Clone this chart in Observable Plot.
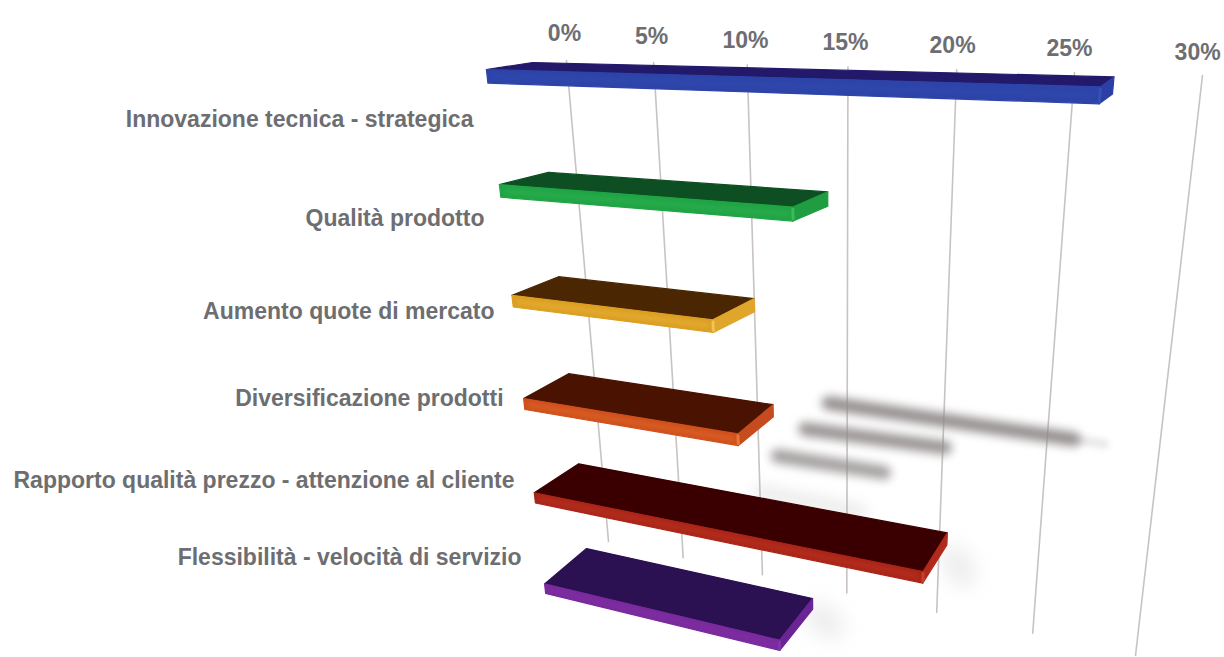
<!doctype html>
<html>
<head>
<meta charset="utf-8">
<style>html,body{margin:0;background:#fff}svg{display:block}</style>
<script src="https://cdn.jsdelivr.net/npm/d3@7"></script>
<script src="https://cdn.jsdelivr.net/npm/@observablehq/plot@0.6"></script>
</head>
<body>
<div id="chart"></div>
<script>
// Survey shares, in percent, for each answer.
const categories = [
  "Innovazione tecnica - strategica",
  "Qualità prodotto",
  "Aumento quote di mercato",
  "Diversificazione prodotti",
  "Rapporto qualità prezzo - attenzione al cliente",
  "Flessibilità - velocità di servizio"
];
const values = [26.6, 14, 10, 10.9, 20.4, 13];
const ticks = [0, 5, 10, 15, 20, 25, 30];

// Colours of each bar's faces.
const topColors = ["#22196a", "#0d4f22", "#4a2702", "#4a1301", "#3a0001", "#2b1052"];
const frontColors = ["#2d44a9", "#20a545", "#dc9f22", "#d0501d", "#aa2518", "#7a2a9d"];
const sideColors = ["#2b3fa6", "#1f9d40", "#e0a62c", "#c64b1e", "#b02a1b", "#6a2595"];
const glintColors = ["#3a55bb", "#45c466", "#f6d060", "#f08a3a", "#d04a30", "#8a3ab0"];

// Slab geometry on the tilted floor: x is in percent, y runs from the top edge (0) to the bottom edge (1).
const barBase = -5;
const barFrontRow = [0.020, 0.239, 0.466, 0.694, 0.917, 1.148];
const barBackRow = [0.005, 0.208, 0.415, 0.621, 0.825, 1.030];
const barBackStart = [-2.06, -1.74, -1.74, -1.69, -1.59, -1.61];
const barCornerInset = [0.5, 1.8, 2.4, 2.1, 1.2, 2.05];
const barLip = 0.025;

const labelEnd = [-6.22, -6.27, -6.35, -6.45, -6.37, -6.54];
const labelRow = [0.115, 0.310, 0.506, 0.702, 0.896, 1.092];
const tickLabelValue = [0.02, 4.97, 9.95, 14.88, 19.78, 24.72, 29.72];
const tickLabelRow = [-0.047, -0.044, -0.040, -0.039, -0.036, -0.035, -0.032];

// Soft cast shadows: [x1, y1, x2, y2, line width, opacity, blur].
const streaks = [
  [14.0, 0.601, 26.2, 0.601, 14, 0.95, 5],
  [26.4, 0.601, 27.6, 0.601, 9, 0.2, 3],
  [12.7, 0.661, 20.1, 0.654, 14, 0.9, 5],
  [11.1, 0.727, 17.0, 0.724, 14, 0.8, 5],
  [10.03, 0.813, 15.75, 0.816, 16, 0.16, 7],
  [20.8, 0.875, 21.3, 0.905, 26, 0.16, 10],
  [13.3, 1.066, 14.1, 1.085, 26, 0.16, 10]
];

// Perspective plane: the four corners of the 0–30 floor, mapped on screen.
const corners = [[566, 60], [1202, 75], [1135, 655], [608, 541]];
function floorProjection([p0, p1, p2, p3]) {
  const sx = p0[0] - p1[0] + p2[0] - p3[0], sy = p0[1] - p1[1] + p2[1] - p3[1];
  const dx1 = p1[0] - p2[0], dx2 = p3[0] - p2[0], dy1 = p1[1] - p2[1], dy2 = p3[1] - p2[1];
  const det = dx1 * dy2 - dx2 * dy1;
  const g = (sx * dy2 - dx2 * sy) / det, h = (dx1 * sy - sx * dy1) / det;
  const a = p1[0] - p0[0] + g * p1[0], b = p3[0] - p0[0] + h * p3[0];
  const d = p1[1] - p0[1] + g * p1[1], e = p3[1] - p0[1] + h * p3[1];
  return d3.geoTransform({
    point(v, t) {
      const u = v / 30, w = g * u + h * t + 1;
      this.stream.point((a * u + b * t + p0[0]) / w, (d * u + e * t + p0[1]) / w);
    }
  });
}

const line = (...coordinates) => ({type: "LineString", coordinates});
const polygon = (...ring) => ({type: "Polygon", coordinates: [[...ring, ring[0]]]});

// One slab per category, with faces built from its value and a soft sheen along the front.
const barMarks = values.flatMap((value, i) => {
  const tf = barFrontRow[i], tb = barBackRow[i], corner = value - barCornerInset[i];
  const faces = [
    [polygon([barBase, tf], [barBackStart[i], tb], [value, tb], [corner, tf]), topColors[i]],
    [polygon([barBase, tf], [corner, tf], [corner, tf + barLip], [barBase, tf + barLip]), frontColors[i]],
    [polygon([corner, tf], [value, tb], [value, tb + barLip], [corner, tf + barLip]), sideColors[i]]
  ];
  const middle = tf + barLip / 2;
  return [
    ...faces.map(([shape, color]) =>
      Plot.geo([shape], {fill: color, stroke: color, strokeWidth: 1.2, strokeLinejoin: "round"})
    ),
    Plot.geo([line([barBase + 0.4, middle], [corner - 0.3, middle])], {
      stroke: glintColors[i],
      strokeWidth: 3,
      strokeOpacity: 0.35,
      imageFilter: "blur(2px)"
    }),
    Plot.geo([line([corner, tf + 0.004], [corner, tf + barLip - 0.004])], {
      stroke: glintColors[i],
      strokeWidth: 3,
      strokeOpacity: 0.75,
      imageFilter: "blur(0.6px)"
    })
  ];
});

const textStyle = {fontFamily: "Liberation Sans", fontWeight: "bold", fontSize: 23, fill: "#6d6e71"};

const chart = Plot.plot({
  width: 1224,
  height: 657,
  margin: 0,
  style: {background: "transparent"},
  projection: floorProjection(corners),
  marks: [
    Plot.geo(ticks.map((v) => line([v, 0], [v, 1])), {stroke: "#c8c3c1", strokeWidth: 1.6}),
    ...streaks.map(([x1, y1, x2, y2, w, o, b]) =>
      Plot.geo([line([x1, y1], [x2, y2])], {stroke: "#8f8a8a", strokeWidth: w, strokeOpacity: o, imageFilter: `blur(${b}px)`})
    ),
    ...barMarks,
    Plot.text(categories, {
      x: (d, i) => labelEnd[i],
      y: (d, i) => labelRow[i],
      text: (d) => d,
      textAnchor: "end",
      ...textStyle
    }),
    Plot.text(ticks, {
      x: (d, i) => tickLabelValue[i],
      y: (d, i) => tickLabelRow[i],
      text: (d) => `${d}%`,
      ...textStyle
    })
  ]
});
document.getElementById("chart").append(chart);
</script>
</body>
</html>
